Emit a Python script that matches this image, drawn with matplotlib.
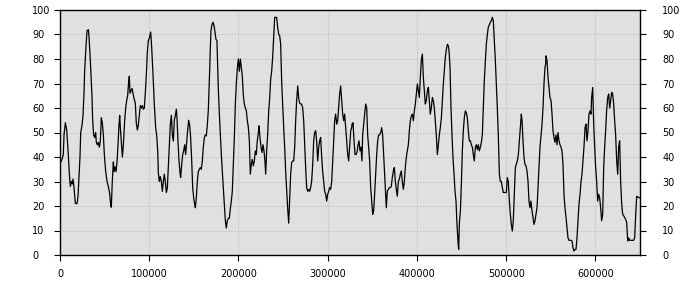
import numpy as np
import matplotlib
matplotlib.use("Agg")
import matplotlib.pyplot as plt

# sample positions (in thousands) and values
pos_k = [
    0, 2.2, 3.7, 4.5, 6.0, 7.5, 8.2, 9.3, 10.5, 11.6, 12.7, 13.8, 14.6, 15.7, 17.2, 19.1, 20.2, 21.3, 22.4, 23.2,
    24.7, 25.8, 26.9, 27.6, 29.1, 30.3, 31.8, 32.5, 33.6, 34.7, 35.9, 36.6, 37.7, 38.9, 40.0, 40.7, 41.8, 43.0, 44.1, 45.2,
    46.3, 47.4, 48.6, 49.7, 51.2, 52.7, 54.2, 55.7, 56.8, 57.5, 58.6, 59.8, 60.5, 61.6, 62.8, 63.9, 65.0, 66.1, 66.9, 67.6,
    68.7, 69.9, 71.0, 72.5, 73.6, 74.7, 75.8, 77.0, 77.7, 78.4, 79.6, 80.7, 81.8, 82.9, 84.4, 85.5, 86.7, 87.8, 88.9, 90.0,
    91.1, 92.3, 93.4, 94.5, 95.6, 96.8, 97.9, 99.0, 100.5, 101.6, 102.7, 104.2, 105.7, 107.2, 108.3, 109.5,
    110.2, 111.3, 112.4, 113.6, 114.7, 115.8, 116.9, 118.0, 119.2, 120.3, 121.4, 122.5, 123.6, 124.8, 125.9, 127.0,
    128.1, 129.3, 130.4, 131.1, 132.2, 133.4, 134.5, 135.2, 136.4, 137.5, 138.6, 139.7, 140.8, 142.0, 143.1, 144.2,
    145.3, 146.4, 147.6, 148.7, 149.8, 150.9, 151.7, 152.8, 153.9, 155.0, 156.1, 157.3, 158.4, 159.5, 160.6, 161.8,
    162.9, 164.0, 165.1, 166.2, 167.0, 167.7, 168.5, 169.2, 170.3, 171.5, 172.6, 173.7, 174.8, 175.9, 176.7, 177.4,
    178.6, 179.7, 180.8, 181.9, 183.0, 184.2, 185.3, 186.4, 187.5, 188.7, 189.8, 190.9, 192.0, 193.1, 194.3, 195.4,
    196.5, 197.6, 198.7, 199.9, 201.0, 202.1, 203.2, 204.3, 205.5, 206.6, 207.7, 208.8, 209.9, 211.1, 212.2, 213.3,
    214.4, 215.5, 216.7, 217.8,
    218.9, 220.0, 221.1, 222.3, 223.0, 224.1, 225.3, 226.4, 227.5, 228.6, 229.7, 230.5, 231.6, 232.7, 233.9, 235.0,
    236.1, 237.2, 238.3, 239.5, 240.6, 241.7, 242.8, 243.9, 245.1, 246.2, 247.3, 248.4, 249.5, 250.7, 251.8, 252.9,
    254.0, 255.1, 256.3, 257.4, 258.5, 259.6, 260.8, 261.9, 263.0, 264.1, 265.2, 266.4, 267.5, 268.6, 269.7, 270.8,
    272.0, 273.1, 274.2, 275.3, 276.4, 277.6, 278.7, 279.8, 280.9, 282.0, 283.2, 284.3, 285.4, 286.5, 287.6, 288.8,
    289.9, 291.0, 292.1, 293.3, 294.4, 295.5, 296.6, 297.7, 298.9, 300.0, 301.1, 302.2, 303.3, 304.5, 305.6, 306.7,
    307.8, 308.9, 310.1, 311.2, 312.3, 313.4, 314.5, 315.7, 316.8, 317.9, 319.0, 320.2, 321.3, 322.4, 323.5, 324.6,
    325.8, 326.9,
    327.2, 328.4, 329.5, 330.6, 331.7, 332.8, 334.0, 335.1, 336.2, 337.3, 338.4, 339.2, 340.3, 341.4, 342.6, 343.7,
    344.8, 345.9, 347.0, 348.2, 349.3, 350.4, 351.5, 352.6, 353.8, 354.9, 356.0, 357.1, 358.2, 359.4, 360.5, 361.6,
    362.7, 363.9, 365.0, 365.7, 366.8, 368.0, 369.1, 370.2, 371.3, 372.4, 373.6, 374.7, 375.8, 376.9, 378.0, 379.2,
    380.3, 381.4, 382.5, 383.6, 384.8, 385.9, 387.0, 388.1, 389.2, 390.4, 391.5, 392.6, 393.7, 394.9, 396.0, 397.1,
    398.2, 399.3, 400.5, 401.6, 402.7, 403.8, 404.9, 406.1, 407.2, 408.3, 409.4, 410.5, 411.7, 412.8, 413.9, 415.0,
    416.1, 417.3, 418.4, 419.5, 420.6, 421.7, 422.9, 424.0, 425.1, 426.2, 427.4, 428.5, 429.6, 430.7, 431.8, 433.0,
    434.1, 435.2,
    436.0, 437.1, 438.2, 439.3, 440.4, 441.6, 442.7, 443.8, 444.9, 446.0, 446.8, 447.5, 448.7, 449.8, 450.9, 452.0,
    453.1, 454.3, 455.4, 456.5, 457.6, 458.7, 459.9, 461.0, 462.1, 463.2, 464.3, 465.5, 466.6, 467.7, 468.8, 469.9,
    471.1, 472.2, 473.3, 474.4, 475.5, 476.7, 477.8, 478.9, 480.0, 481.1, 482.3, 483.4, 484.5, 485.6, 486.8, 487.9,
    489.0, 490.1, 491.2, 492.4, 493.5, 494.6, 495.7, 496.8, 498.0, 499.1, 500.2, 501.3, 502.4, 503.6, 504.7, 505.8,
    506.9, 508.0, 509.2, 510.3, 511.4, 512.5, 513.7, 514.8, 515.9, 517.0, 517.8, 518.9, 520.0, 521.1, 522.2, 523.4,
    524.5, 525.6, 526.7, 527.8, 529.0, 530.1, 531.2, 532.3, 533.4, 534.6, 535.7, 536.8, 537.9, 539.1, 540.2, 541.3,
    542.4, 543.5, 544.3,
    544.7, 545.8, 546.9, 548.0, 549.1, 550.3, 551.4, 552.5, 553.6, 554.7, 555.9, 557.0, 558.1, 559.2, 560.3, 561.5,
    562.6, 563.7, 564.8, 565.9, 567.1, 568.2, 569.3, 570.4, 571.6, 572.7, 573.8, 574.9, 576.0, 577.2, 578.3, 579.4,
    580.5, 581.6, 582.8, 583.9, 585.0, 586.1, 587.2, 588.4, 589.5, 590.6, 591.7, 592.8, 594.0, 595.1,
    595.8, 597.0, 598.1, 599.2, 600.3, 601.4, 602.6, 603.7, 604.8, 605.9, 607.0, 608.2, 609.3, 610.4, 611.5, 612.6,
    613.8, 614.9, 616.0, 617.1, 618.3, 619.4, 620.5, 621.6, 622.7, 623.9, 625.0, 626.1, 627.2, 628.3, 629.5, 630.6,
    631.7, 632.8, 633.9, 635.1, 636.2, 637.3, 638.4, 639.5, 640.7, 641.8, 642.9, 644.0, 645.2, 646.3, 647.4, 648.5,
    650.0,
]

level = [
    37.3, 39, 41, 49, 54, 51, 47, 41, 33, 28, 30, 29, 31, 27.5, 21, 21, 24, 32, 40, 50,
    53, 57, 66, 75, 85, 91.5, 92, 89, 82, 74, 64, 55, 49, 48, 50, 46, 45, 46, 44, 46.5,
    56, 54, 49, 41, 34, 30, 28, 25, 20.5, 19.5, 30, 38, 34, 36, 34, 38, 45, 53, 57, 52,
    46.5, 40, 45, 55, 60, 63, 65, 71, 73, 66, 67, 68, 66, 64, 62, 54, 51, 53, 57, 61,
    60, 61, 59.5, 60, 66, 74, 83, 87.5, 89, 91, 85, 74, 61.5, 52, 49, 42.5,
    33.6, 30, 32, 30, 26, 30, 33, 30, 25.5, 27.5, 36, 44, 53, 57, 49, 46.5, 55, 57, 59.5, 56,
    46.5, 38.4, 33.6, 31.6, 37, 41, 42.5, 45, 41, 46.5, 51, 55, 53, 48, 38.4, 27.5, 23.4, 20.7, 19.3, 23.4,
    30, 34, 35, 35.7, 35, 38.4, 44, 48, 49, 48.6, 53, 59, 67, 75, 85, 91.5, 94, 95, 93.6, 91,
    88, 87.5, 77, 68, 57.5, 49, 41, 34, 27.5, 20.7, 14, 11, 14, 15, 15, 19, 22, 26, 37, 48,
    61.6, 70, 76, 80, 75, 80, 76.6, 73, 65, 61.6, 60, 59, 55, 52, 46.6, 33, 37, 39, 36.4, 38.4,
    42.5, 41, 46.6, 50, 52.7, 48, 44, 41.8, 45, 42.5, 38.4, 33, 42.5, 49, 58.8, 64, 71.8, 75, 80.6, 88.8,
    97, 97, 97, 93, 90, 89.5, 86, 71, 61.6, 52, 44, 34, 26.8, 19.3, 13, 23.4, 33, 37.7, 38.4, 38.4,
    44, 54.8, 63, 69, 64, 62, 61.6, 61.6, 60, 54.8, 45, 35.7, 27.5, 26, 26.8, 26, 27.5, 30, 37, 46.6,
    50, 50.7, 46.6, 38.4, 44, 46.6, 48, 39.8, 34, 30, 26, 24.8, 22, 24.8, 26, 27.5, 26.8, 30, 38.4, 46.6,
    54.8, 57.5, 53.4, 54.8, 60, 65.7, 69, 63, 57.5, 54.8, 57.5, 52, 46.6, 41, 38.4, 44, 50.7, 52,
    53.4, 54, 46.6, 41, 41, 41.8, 45, 46.6, 42.5, 44, 38.4, 49, 53.4, 57.5, 61.6, 60, 49, 44, 38.4, 27.5,
    22, 16.6, 18, 24.8, 33, 41, 46.6, 49, 49, 50, 52, 49, 41, 33, 24.8, 19.3, 26, 26.8, 27.5, 27.5,
    28, 31.6, 34.3, 35.7, 30, 26.8, 24, 30, 31, 33, 34.3, 30, 26.8, 30, 35.7, 39.8, 42.5, 45, 50.7, 54.8,
    56.8, 57.5, 54.8, 58.8, 61.6, 65.7, 69.8, 67, 64.3, 72.5, 79.3, 82, 72.5, 67, 61.6, 63, 67, 68.4, 63, 57.5,
    60, 64.3, 63, 60, 54.8, 49, 41, 45, 49, 52, 56, 63, 69.8, 75, 80.6, 84, 86, 85.4,
    83.4, 76.6, 60, 49, 39.8, 33, 26, 22, 12.5, 5.7, 2.3, 12.5, 18, 28.9, 42.5, 50.7, 56, 58.8, 58, 56,
    50.7, 46.6, 46.6, 45, 44, 41, 38.4, 44, 45, 43, 45, 42.5, 44, 46, 49, 60, 71, 79.3, 86, 90,
    93, 94, 95, 95.6, 97, 95.6, 87.5, 79.3, 69.8, 60, 49, 33, 30, 30, 27.5, 25.5, 25.5, 25.5, 25.5, 31.6,
    30, 22, 16.6, 12.5, 9.8, 14, 24.8, 35.7, 37, 38.4, 41, 46.6, 52, 57.5, 54.8, 46.6, 39.8, 37, 36.4, 34.3,
    30, 22, 19.3, 22, 18, 15.3, 12.5, 14, 16.6, 19.3, 27.5, 35.7, 44, 49, 53.4, 60, 69.8, 76.6, 78,
    81.3, 79.3, 72.5, 68.4, 64.3, 63, 57.5, 50.7, 48, 46, 49, 45, 50, 46.6, 45, 44, 42.5, 37, 24.8, 19.3,
    15.3, 11.2, 7, 6, 6, 6, 5.7, 3, 1.6, 2.3, 2.3, 7, 14, 20.7, 24.8, 30, 33, 38.4, 44, 52,
    53.4, 46.6, 50.7, 57.5, 58.8, 57.5,
    64.3, 68.4, 53.4, 44, 35.7, 30, 22, 24.8, 23.4, 19.3, 14, 16.6, 35.7, 44, 50.7, 58.8, 64.3, 65.7, 60, 63,
    66.4, 65.7, 61.6, 54.8, 49, 38.4, 33, 44, 46.6, 30, 20.7, 16.6, 16, 15.3, 14.6, 13.2, 5.7, 7, 6, 6,
    6, 6, 6, 7, 16.6, 24, 23.7, 23.4, 23.4,
]

assert len(pos_k) == len(level), (len(pos_k), len(level))

y_ticks = [0, 10, 20, 30, 40, 50, 60, 70, 80, 90, 100]
x_ticks = [0, 100000, 200000, 300000, 400000, 500000, 600000]

x = np.array(pos_k) * 1000

fig = plt.figure(figsize=(7, 3), dpi=100)
ax = fig.add_axes([60 / 700, 45 / 300, 580 / 700, 245 / 300])
ax.set_facecolor('#e0e0e0')
ax.plot(x, level, color='black', lw=0.9)

ax.set_xlim(0, 650000)
ax.set_ylim(0, 100)
ax.set_xticks(x_ticks)
ax.set_xticklabels([str(t) for t in x_ticks])
ax.set_yticks(y_ticks)
ax.grid(True, color='#d0d0d0', lw=0.8)
ax.set_axisbelow(True)
for s in ax.spines.values():
    s.set_color('black')
    s.set_linewidth(1)

ax.tick_params(axis='x', direction='out', length=4, width=0.8, pad=6, labelsize=7)
ax.tick_params(axis='y', direction='out', length=4, width=0.8, labelsize=7,
               left=True, right=True, labelleft=True, labelright=True)

# left labels anchored at their left edge, right labels a bit closer
for t in ax.yaxis.get_major_ticks():
    t.label1.set_horizontalalignment('left')
    t.label2.set_horizontalalignment('left')
    t.set_pad(16)
    t.label2.set_x(1.0)
fig.canvas.draw()
from matplotlib.transforms import ScaledTranslation
shift = ScaledTranslation(-4 / 72, 0, fig.dpi_scale_trans)
for t in ax.yaxis.get_major_ticks():
    t.label2.set_transform(t.label2.get_transform() + shift)

fig.savefig('out.png', dpi=100)
